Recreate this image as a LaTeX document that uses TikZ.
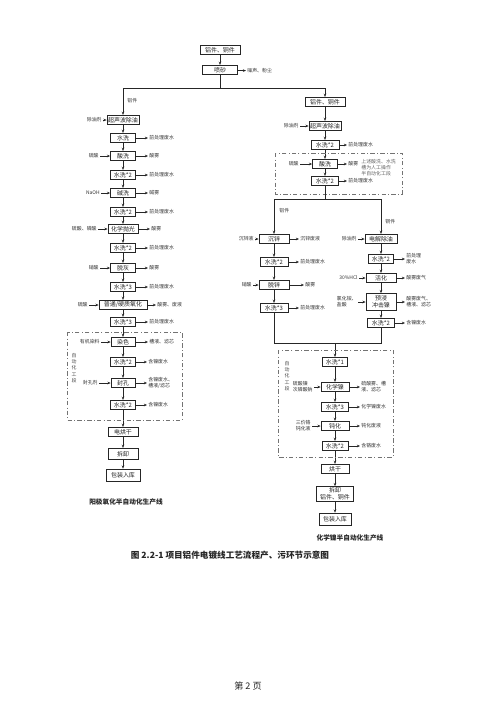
\documentclass[tikz,border=0pt]{standalone}
\usepackage{fontspec}
\setmainfont{Noto Sans CJK SC}
\usetikzlibrary{arrows.meta}
\begin{document}
\begin{tikzpicture}[x=0.02cm,y=-0.02cm,
 box/.style={draw=black!85,line width=0.45pt,inner sep=0.4pt,minimum height=0.19cm,font=\fontsize{3.4}{4.0}\selectfont,text=black!85,align=center},
 bw/.style={box,minimum width=#1*0.02cm},
 lab/.style={font=\fontsize{2.8}{3.4}\selectfont,inner sep=0.6pt,text=black!80,align=left},
 arr/.style={-{Stealth[length=1.8pt,width=1.5pt]},line width=0.45pt,draw=black!85},
 ln/.style={line width=0.45pt,draw=black!85},
 dbox/.style={draw=black!55,line width=0.5pt,dash pattern=on 2.5pt off 1.3pt on 0.5pt off 1.3pt},
 vtext/.style={font=\fontsize{2.8}{3.6}\selectfont,inner sep=0pt,text=black!70,align=center},
 capt/.style={font=\bfseries\fontsize{3.8}{4.4}\selectfont,text=black!85,inner sep=0pt}]
\useasboundingbox[fill=white] (0,0) rectangle (500,707);

% ---------- top ----------
\node[bw=40] (t1) at (220,50) {铝件、铜件};
\node[bw=35] (t2) at (220,70) {喷砂};
\node[lab,anchor=west] (ot2) at (246,71) {噪声、粉尘};
\draw[arr] (t1) -- (t2);
\draw[arr] (t2) -- (ot2);
\coordinate (jm) at (220,88);
\coordinate (jl) at (123,88);
\coordinate (jr) at (325,88);
\draw[ln] (t2) -- (jm);
\draw[ln] (jl) -- (jr);

% ---------- left column ----------
\node[lab,anchor=west] (lbA) at (126,101) {铝件};
\node[bw=32] (L1) at (123,120) {超声波除油};
\node[bw=25] (L2) at (123,138) {水洗};
\node[bw=25] (L3) at (123,156) {酸洗};
\node[bw=25] (L4) at (123,175) {水洗*2};
\node[bw=25] (L5) at (123,193) {碱洗};
\node[bw=25] (L6) at (123,212) {水洗*2};
\node[bw=30] (L7) at (123,229) {化学抛光};
\node[bw=25] (L8) at (123,248) {水洗*2};
\node[bw=25] (L9) at (123,268) {脱灰};
\node[bw=25] (L10) at (123,287) {水洗*3};
\node[bw=48] (L11) at (123,305) {普通/硬质氧化};
\node[bw=25] (L12) at (123,322) {水洗*3};
\node[bw=24] (L13) at (123,342) {染色};
\node[bw=25] (L14) at (123,362) {水洗*2};
\node[bw=24] (L15) at (123,383) {封孔};
\node[bw=25] (L16) at (123,405) {水洗*2};
\node[bw=30] (L17) at (123,432) {电烘干};
\node[bw=30,minimum height=0.23cm] (L18) at (123,454) {拆卸};
\node[bw=34,minimum height=0.24cm] (L19) at (123,475) {包装入库};
\draw[arr] (jl) -- (L1);
\foreach \a/\b in {L1/L2,L2/L3,L3/L4,L4/L5,L5/L6,L6/L7,L7/L8,L8/L9,L9/L10,L10/L11,L11/L12,L12/L13,L13/L14,L14/L15,L15/L16,L16/L17,L17/L18,L18/L19}
  \draw[arr] (\a) -- (\b);

% inputs left
\node[lab,anchor=east] (iL1) at (103,120) {除油剂};
\node[lab,anchor=east] (iL3) at (100,156) {硫酸};
\node[lab,anchor=east] (iL5) at (101,193) {NaOH};
\node[lab,anchor=east] (iL7) at (98,229) {硫酸、磷酸};
\node[lab,anchor=east] (iL9) at (100,268) {硝酸};
\node[lab,anchor=east] (iL11) at (89,305) {硫酸};
\node[lab,anchor=east] (iL13) at (101,342) {有机染料};
\node[lab,anchor=east] (iL15) at (99,383) {封孔剂};
\foreach \n in {1,3,5,7,9,11,13,15} \draw[arr] (iL\n) -- (L\n);

% outputs left
\node[lab,anchor=west] (oL2) at (148,138) {前处理废水};
\node[lab,anchor=west] (oL3) at (148,156) {酸雾};
\node[lab,anchor=west] (oL4) at (148,175) {前处理废水};
\node[lab,anchor=west] (oL5) at (148,193) {碱雾};
\node[lab,anchor=west] (oL6) at (148,212) {前处理废水};
\node[lab,anchor=west] (oL7) at (150,229) {酸雾};
\node[lab,anchor=west] (oL8) at (148,248) {前处理废水};
\node[lab,anchor=west] (oL9) at (148,268) {酸雾};
\node[lab,anchor=west] (oL10) at (148,287) {前处理废水};
\node[lab,anchor=west] (oL11) at (156,305) {酸雾、废液};
\node[lab,anchor=west] (oL12) at (148,322) {前处理废水};
\node[lab,anchor=west] (oL13) at (148,342) {槽液、滤芯};
\node[lab,anchor=west] (oL14) at (147,362) {含镍废水};
\node[lab,anchor=west] (oL15) at (147,383) {含镍废水、\\槽液/滤芯};
\node[lab,anchor=west] (oL16) at (147,405) {含镍废水};
\foreach \n in {2,3,4,5,6,7,8,9,10,11,12,13,14,15,16} \draw[arr] (L\n) -- (oL\n);

\draw[dbox] (67,332) rectangle (182,420);
\node[vtext] (vL) at (74,368) {自\\动\\化\\工\\段};
\node[capt] (capL) at (126,502) {阳极氧化半自动化生产线};

% ---------- right column, upper ----------
\node[bw=40] (R0) at (325,102) {铝件、铜件};
\node[bw=32] (R1) at (325,126) {超声波除油};
\node[bw=28] (R2) at (325,145) {水洗*2};
\node[bw=25] (R3) at (325,164) {酸洗};
\node[bw=27] (R4) at (325,181) {水洗*2};
\draw[arr] (jr) -- (R0);
\foreach \a/\b in {R0/R1,R1/R2,R2/R3,R3/R4} \draw[arr] (\a) -- (\b);
\node[lab,anchor=east] (iR1) at (300,126) {除油剂};
\node[lab,anchor=east] (iR3) at (300,164) {硫酸};
\draw[arr] (iR1) -- (R1);
\draw[arr] (iR3) -- (R3);
\node[lab,anchor=west] (oR2) at (347,145) {前处理废水};
\node[lab,anchor=west] (oR3) at (347,164) {酸雾};
\node[lab,anchor=west] (oR4) at (347,181) {前处理废水};
\foreach \n in {2,3,4} \draw[arr] (R\n) -- (oR\n);
\draw[dbox] (275,153) rectangle (402,194);
\node[lab,text=black!60,anchor=west] (note) at (360,168) {上述酸洗、水洗\\槽为人工操作\\半自动化工段};

\coordinate (sa) at (274,199);
\coordinate (sb) at (381,199);
\coordinate (sm) at (325,199);
\draw[ln] (R4) -- (sm);
\draw[ln] (sa) -- (sb);
\node[lab,anchor=west] (lbA2) at (278,211) {铝件};
\node[lab,anchor=west] (lbC2) at (384,222) {铜件};

% left branch (aluminium)
\node[bw=30] (A1) at (274,239) {沉锌};
\node[bw=28] (A2) at (274,262) {水洗*2};
\node[bw=30] (A3) at (274,285) {脱锌};
\node[bw=28] (A4) at (274,308) {水洗*3};
\draw[arr] (sa) -- (A1);
\foreach \a/\b in {A1/A2,A2/A3,A3/A4} \draw[arr] (\a) -- (\b);
\node[lab,anchor=east] (iA1) at (255,239) {沉锌液};
\node[lab,anchor=east] (iA3) at (253,285) {硝酸};
\draw[arr] (iA1) -- (A1);
\draw[arr] (iA3) -- (A3);
\node[lab,anchor=west] (oA1) at (299,239) {沉锌废液};
\node[lab,anchor=west] (oA2) at (299,262) {前处理废水};
\node[lab,anchor=west] (oA3) at (304,285) {酸雾};
\node[lab,anchor=west] (oA4) at (299,308) {前处理废水};
\foreach \n in {1,2,3,4} \draw[arr] (A\n) -- (oA\n);

% right branch (copper)
\node[bw=32] (B1) at (381,239) {电解除油};
\node[bw=25] (B2) at (381,259) {水洗*2};
\node[bw=30] (B3) at (381,278) {活化};
\node[bw=30,minimum height=0.34cm] (B4) at (381,302) {预浸\\冲击镍};
\node[bw=27] (B5) at (381,323) {水洗*2};
\draw[arr] (sb) -- (B1);
\foreach \a/\b in {B1/B2,B2/B3,B3/B4,B4/B5} \draw[arr] (\a) -- (\b);
\node[lab,anchor=east] (iB1) at (358,239) {除油剂};
\node[lab,anchor=east] (iB3) at (359,278) {30\%HCl};
\node[lab,anchor=east] (iB4) at (358,302) {氯化铵、\\盐酸};
\draw[arr] (iB1) -- (B1);
\draw[arr] (iB3) -- (B3);
\draw[arr] (iB4) -- (B4);
\node[lab,anchor=west] (oB2) at (405,259) {前处理\\废水};
\node[lab,anchor=west] (oB3) at (405,278) {酸雾废气};
\node[lab,anchor=west] (oB4) at (405,302) {酸雾废气、\\槽液、滤芯};
\node[lab,anchor=west] (oB5) at (405,323) {含镍废水};
\foreach \n in {2,3,4,5} \draw[arr] (B\n) -- (oB\n);

% merge
\coordinate (ma) at (274,343);
\coordinate (mb) at (381,343);
\coordinate (mc) at (335,343);
\draw[ln] (A4) -- (ma) -- (mb) -- (B5);

% lower part
\node[bw=25] (C1) at (335,362) {水洗*1};
\node[bw=28] (C2) at (335,387) {化学镍};
\node[bw=27] (C3) at (335,407) {水洗*3};
\node[bw=28] (C4) at (335,426) {钝化};
\node[bw=26] (C5) at (335,446) {水洗*2};
\node[bw=28] (C6) at (335,469) {烘干};
\node[bw=37,minimum height=0.3cm] (C7) at (335,494) {拆卸\\铝件、铜件};
\node[bw=32,minimum height=0.24cm] (C8) at (335,519) {包装入库};
\draw[arr] (mc) -- (C1);
\foreach \a/\b in {C1/C2,C2/C3,C3/C4,C4/C5,C5/C6,C6/C7,C7/C8} \draw[arr] (\a) -- (\b);
\node[lab,anchor=east] (iC2) at (314,387) {硫酸镍\\次磷酸钠};
\node[lab,anchor=east] (iC4) at (312,426) {三价铬\\钝化液};
\draw[arr] (iC2) -- (C2);
\draw[arr] (iC4) -- (C4);
\node[lab,anchor=west] (oC2) at (360,387) {硫酸雾、槽\\液、滤芯};
\node[lab,anchor=west] (oC3) at (360,407) {化学镍废水};
\node[lab,anchor=west] (oC4) at (360,426) {钝化废液};
\node[lab,anchor=west] (oC5) at (360,446) {含铬废水};
\foreach \n in {2,3,4,5} \draw[arr] (C\n) -- (oC\n);
\draw[dbox] (278,350) rectangle (393,457);
\node[vtext] (vR) at (287,376) {自\\动\\化\\工\\段};
\node[capt] (capR) at (350,538) {化学镍半自动化生产线};

% captions
\node[capt,font=\bfseries\fontsize{4.9}{5.6}\selectfont] (fig) at (230,555) {图 2.2-1 项目铝件电镀线工艺流程产、污环节示意图};
\node[font=\fontsize{5.2}{6}\selectfont,text=black!85,inner sep=0pt] (page) at (248,686) {第 2 页};
\end{tikzpicture}
\end{document}
